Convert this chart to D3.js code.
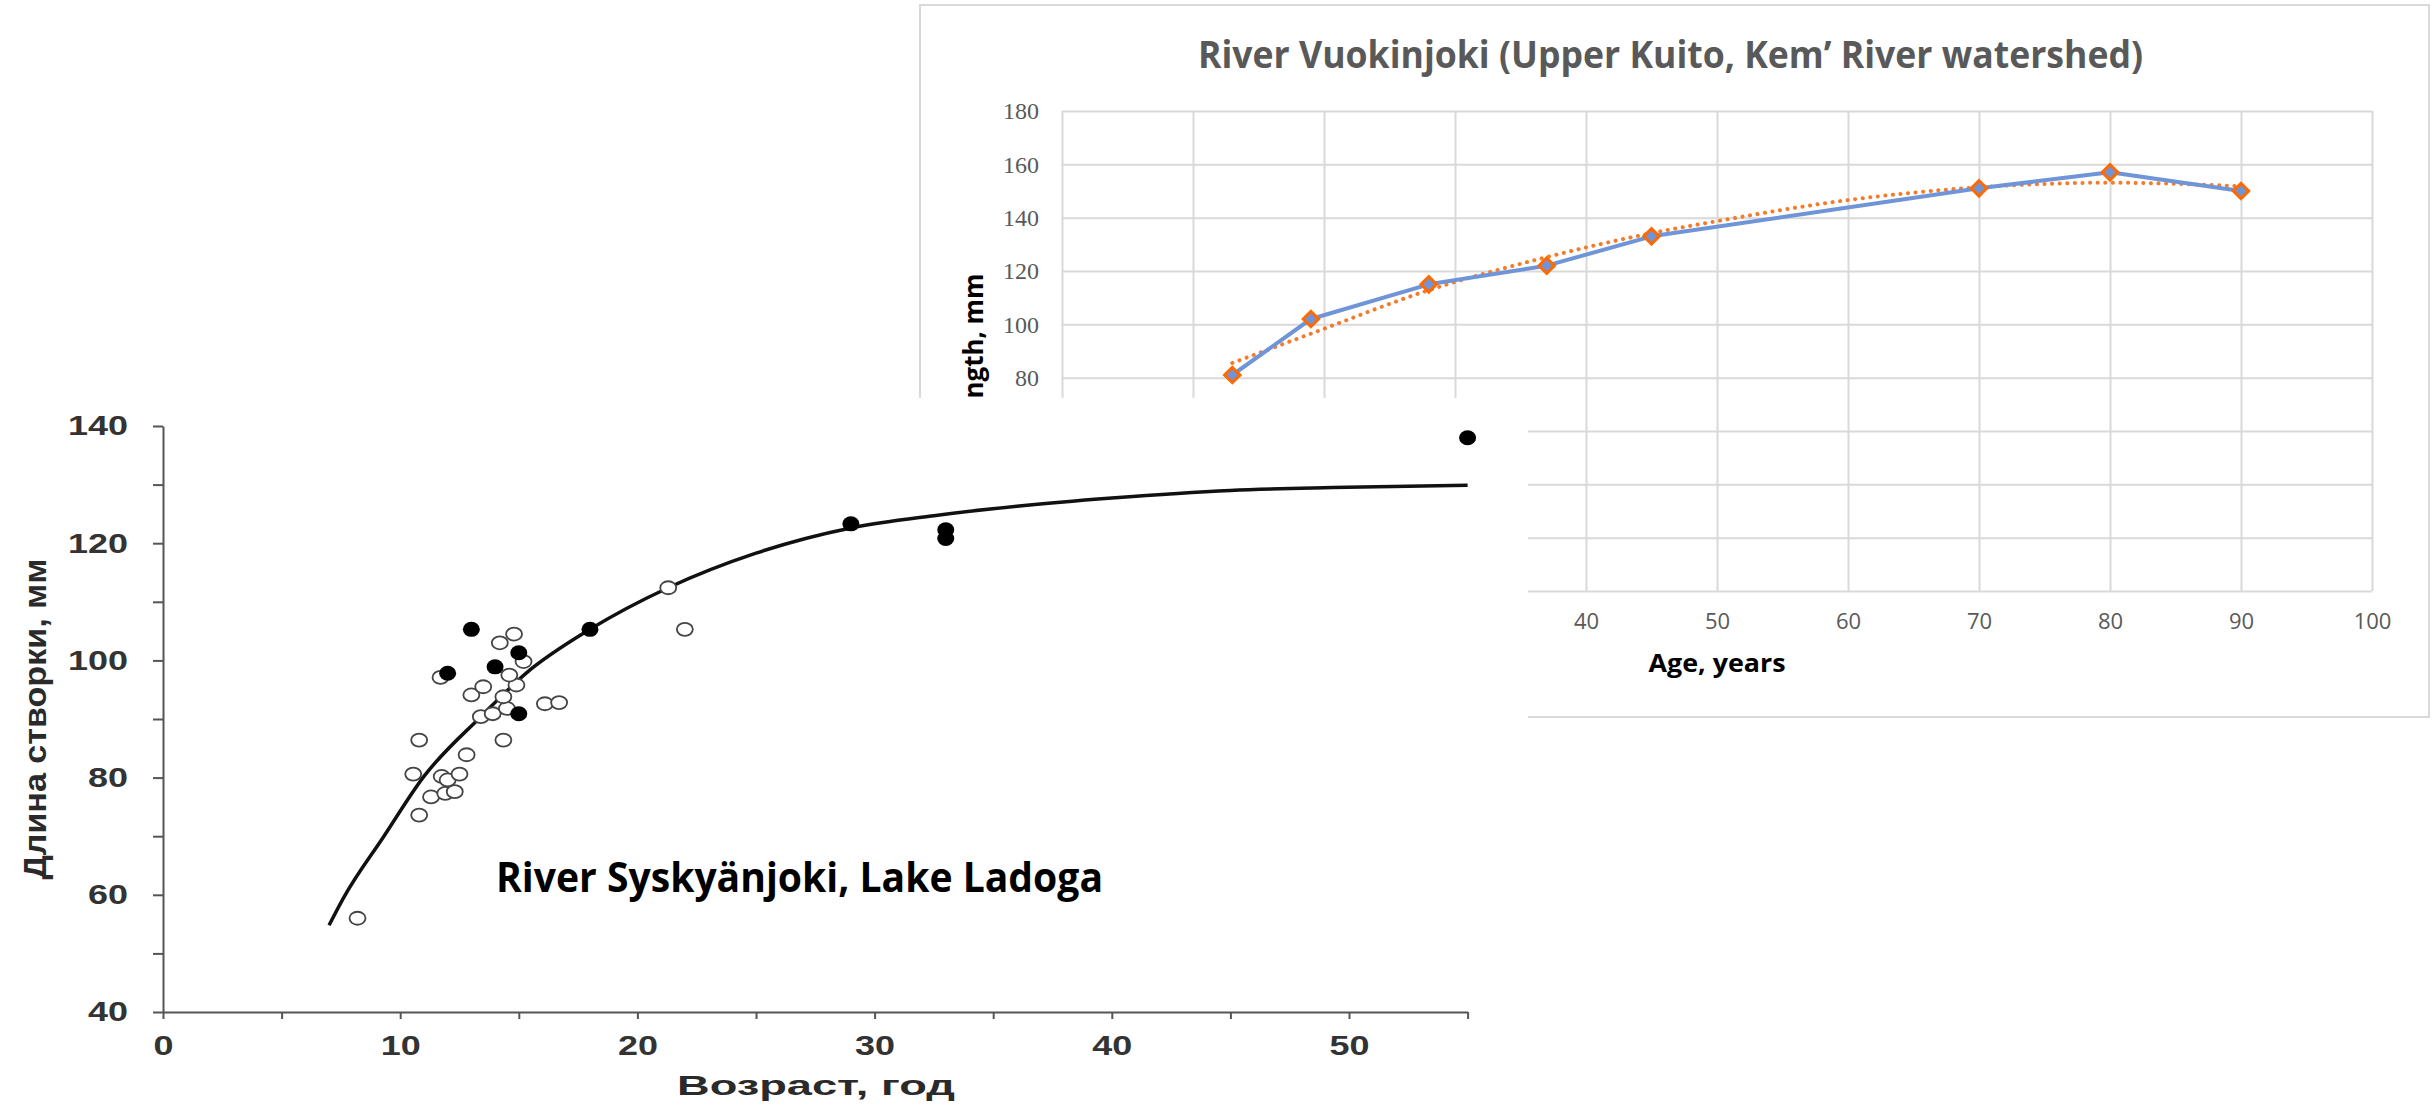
<!DOCTYPE html>
<html>
<head>
<meta charset="utf-8">
<script src="https://cdn.jsdelivr.net/npm/d3@7"></script>
<style>
  body { margin: 0; background: #fff; }
  svg { display: block; }
</style>
</head>
<body>
<svg width="2432" height="1112"></svg>
<script>
// River Vuokinjoki (right chart)
const vuoAges = [13, 19, 28, 37, 45, 70, 80, 90];
const vuoLengths = [81, 102, 115, 122, 133, 151, 157, 150];
const trendAges = [13, 19, 28, 37, 45, 50, 60, 70, 80, 90];
const trendLengths = [85.5, 96.5, 112.8, 125.2, 134.2, 138.7, 146.6, 151.4, 153.1, 151.8];
const vuoXTicks = [0, 10, 20, 30, 40, 50, 60, 70, 80, 90, 100];
const vuoYTicks = [0, 20, 40, 60, 80, 100, 120, 140, 160, 180];

// River Syskyänjoki (left chart)
const openAges = [8.2, 10.8, 11.3, 11.9, 12.3, 10.55, 11.75, 12.0, 12.5, 12.8, 10.8, 14.35,
  13.0, 13.5, 13.4, 13.9, 14.5, 14.35, 14.9, 16.1, 16.7, 11.7, 14.6, 15.2, 14.2, 14.8, 21.3, 22.0];
const openLengths = [56, 73.6, 76.7, 77.3, 77.6, 80.6, 80.2, 79.6, 80.6, 83.9, 86.4, 86.4,
  94.1, 95.5, 90.4, 90.9, 91.8, 93.8, 95.8, 92.6, 92.8, 97.1, 97.5, 99.8, 103, 104.5, 112.4, 105.3];
const filledAges = [12, 13, 14, 15, 15, 18, 29, 33, 33, 55];
const filledLengths = [97.8, 105.3, 98.9, 101.3, 90.9, 105.3, 123.3, 122.3, 120.8, 138];
const fitAges = [7, 7.6, 9.3, 11, 13.4, 15.3, 18, 21.3, 25, 29, 32.5, 36, 40, 45, 49.3, 55];
const fitLengths = [54.8, 59.4, 69.9, 80.2, 90.4, 97.8, 105.3, 112.4, 118.3, 122.6, 124.7, 126.3, 127.7, 129, 129.5, 129.9];
const sysXTicks = [0, 5, 10, 15, 20, 25, 30, 35, 40, 45, 50, 55];
const sysYTicks = [40, 50, 60, 70, 80, 90, 100, 110, 120, 130, 140];

const svg = d3.select("svg");

// ---------- right chart ----------
const right = svg.append("g");

right.append("rect")
  .attr("x", 920).attr("y", 5)
  .attr("width", 1509).attr("height", 712)
  .attr("fill", "#fff")
  .attr("stroke", "#d9d9d9")
  .attr("stroke-width", 2);

const vx = d3.scaleLinear().domain([0, 100]).range([1062, 2372]);
const vy = d3.scaleLinear().domain([0, 180]).range([591, 111]);

right.append("g")
  .attr("transform", "translate(0,591)")
  .call(d3.axisBottom(vx).tickValues(vuoXTicks).tickSize(-480).tickPadding(22))
  .call(g => g.select(".domain").remove())
  .call(g => g.selectAll("line").attr("stroke", "#d9d9d9").attr("stroke-width", 2))
  .call(g => g.selectAll("text")
    .attr("font-family", "Open Sans")
    .attr("font-size", 22)
    .attr("fill", "#595959"));

right.append("g")
  .attr("transform", "translate(1062,0)")
  .call(d3.axisLeft(vy).tickValues(vuoYTicks).tickSize(-1310).tickPadding(23))
  .call(g => g.select(".domain").remove())
  .call(g => g.selectAll("line").attr("stroke", "#d9d9d9").attr("stroke-width", 2))
  .call(g => g.selectAll("text")
    .attr("font-family", "Liberation Serif")
    .attr("font-size", 24)
    .attr("fill", "#595959"));

right.append("text")
  .attr("x", 1198).attr("y", 68)
  .attr("font-family", "Open Sans")
  .attr("font-weight", "bold")
  .attr("font-size", 37)
  .attr("fill", "#595959")
  .attr("textLength", 945)
  .attr("lengthAdjust", "spacingAndGlyphs")
  .text("River Vuokinjoki (Upper Kuito, Kem\u2019 River watershed)");

right.append("text")
  .attr("x", 1717).attr("y", 672)
  .attr("text-anchor", "middle")
  .attr("font-family", "Open Sans")
  .attr("font-weight", "bold")
  .attr("font-size", 25)
  .attr("textLength", 137)
  .attr("lengthAdjust", "spacingAndGlyphs")
  .text("Age, years");

right.append("text")
  .attr("transform", "translate(983,351) rotate(-90)")
  .attr("text-anchor", "middle")
  .attr("font-family", "Open Sans")
  .attr("font-weight", "bold")
  .attr("font-size", 26)
  .attr("textLength", 155)
  .attr("lengthAdjust", "spacingAndGlyphs")
  .text("Length, mm");

const trend = trendAges.map((a, i) => [a, trendLengths[i]]);
right.append("path")
  .datum(trend)
  .attr("fill", "none")
  .attr("stroke", "#f47b2a")
  .attr("stroke-width", 4)
  .attr("stroke-linecap", "round")
  .attr("stroke-dasharray", "0.1 7.5")
  .attr("d", d3.line().curve(d3.curveMonotoneX).x(d => vx(d[0])).y(d => vy(d[1])));

const vuo = vuoAges.map((a, i) => [a, vuoLengths[i]]);
right.append("path")
  .datum(vuo)
  .attr("fill", "none")
  .attr("stroke", "#7094d8")
  .attr("stroke-width", 4)
  .attr("stroke-linejoin", "round")
  .attr("d", d3.line().x(d => vx(d[0])).y(d => vy(d[1])));

right.selectAll(".marker")
  .data(vuo)
  .enter()
  .append("path")
  .attr("class", "marker")
  .attr("transform", d => `translate(${vx(d[0])},${vy(d[1])}) rotate(45)`)
  .attr("d", d3.symbol(d3.symbolSquare, 120))
  .attr("fill", "#7094d8")
  .attr("stroke", "#ff6a00")
  .attr("stroke-width", 3);

// ---------- left chart (pasted on top) ----------
const left = svg.append("g");

left.append("rect")
  .attr("x", 0).attr("y", 398)
  .attr("width", 1528).attr("height", 714)
  .attr("fill", "#fff");

const sx = d3.scaleLinear().domain([0, 55]).range([163, 1467.6]);
const sy = d3.scaleLinear().domain([40, 140]).range([1012, 426]);

left.append("g")
  .attr("transform", "translate(0,1012)")
  .call(d3.axisBottom(sx).tickValues(sysXTicks).tickSize(7).tickSizeOuter(0).tickPadding(16)
    .tickFormat(d => d % 10 === 0 ? d : ""))
  .call(g => g.select(".domain").attr("stroke", "#555").attr("stroke-width", 2))
  .call(g => g.selectAll("line").attr("stroke", "#555").attr("stroke-width", 2))
  .call(g => g.selectAll("text")
    .attr("font-family", "Liberation Sans")
    .attr("font-weight", "bold")
    .attr("font-size", 28)
    .attr("fill", "#333")
    .attr("textLength", function() { return this.textContent.length * 20; })
    .attr("lengthAdjust", "spacingAndGlyphs"));

left.append("g")
  .attr("transform", "translate(163,0)")
  .call(d3.axisLeft(sy).tickValues(sysYTicks).tickSize(10).tickSizeOuter(0).tickPadding(25)
    .tickFormat(d => d % 20 === 0 ? d : ""))
  .call(g => g.select(".domain").attr("stroke", "#555").attr("stroke-width", 2))
  .call(g => g.selectAll("line").attr("stroke", "#555").attr("stroke-width", 2))
  .call(g => g.selectAll("text")
    .attr("font-family", "Liberation Sans")
    .attr("font-weight", "bold")
    .attr("font-size", 28)
    .attr("fill", "#333")
    .attr("textLength", function() { return this.textContent.length * 20; })
    .attr("lengthAdjust", "spacingAndGlyphs"));

left.append("text")
  .attr("x", 816).attr("y", 1095)
  .attr("text-anchor", "middle")
  .attr("font-family", "Liberation Sans")
  .attr("font-weight", "bold")
  .attr("font-size", 27)
  .attr("fill", "#2a2a2a")
  .attr("textLength", 278)
  .attr("lengthAdjust", "spacingAndGlyphs")
  .text("Возраст, год");

left.append("text")
  .attr("transform", "translate(46,719) rotate(-90)")
  .attr("text-anchor", "middle")
  .attr("font-family", "Liberation Sans")
  .attr("font-weight", "bold")
  .attr("font-size", 32)
  .attr("fill", "#2a2a2a")
  .attr("textLength", 321)
  .attr("lengthAdjust", "spacingAndGlyphs")
  .text("Длина створки, мм");

const fit = fitAges.map((a, i) => [a, fitLengths[i]]);
left.append("path")
  .datum(fit)
  .attr("fill", "none")
  .attr("stroke", "#111")
  .attr("stroke-width", 3.5)
  .attr("d", d3.line().curve(d3.curveMonotoneX).x(d => sx(d[0])).y(d => sy(d[1])));

left.selectAll(".open")
  .data(openAges.map((a, i) => [a, openLengths[i]]))
  .enter()
  .append("ellipse")
  .attr("class", "open")
  .attr("cx", d => sx(d[0]))
  .attr("cy", d => sy(d[1]))
  .attr("rx", 8).attr("ry", 6.5)
  .attr("fill", "#fff")
  .attr("stroke", "#444")
  .attr("stroke-width", 1.8);

left.selectAll(".filled")
  .data(filledAges.map((a, i) => [a, filledLengths[i]]))
  .enter()
  .append("ellipse")
  .attr("class", "filled")
  .attr("cx", d => sx(d[0]))
  .attr("cy", d => sy(d[1]))
  .attr("rx", 8.5).attr("ry", 7.5)
  .attr("fill", "#000");

left.append("text")
  .attr("x", 496).attr("y", 892)
  .attr("font-family", "Open Sans")
  .attr("font-weight", "bold")
  .attr("font-size", 42)
  .attr("fill", "#000")
  .attr("textLength", 607)
  .attr("lengthAdjust", "spacingAndGlyphs")
  .text("River Syskyänjoki, Lake Ladoga");
</script>
</body>
</html>
